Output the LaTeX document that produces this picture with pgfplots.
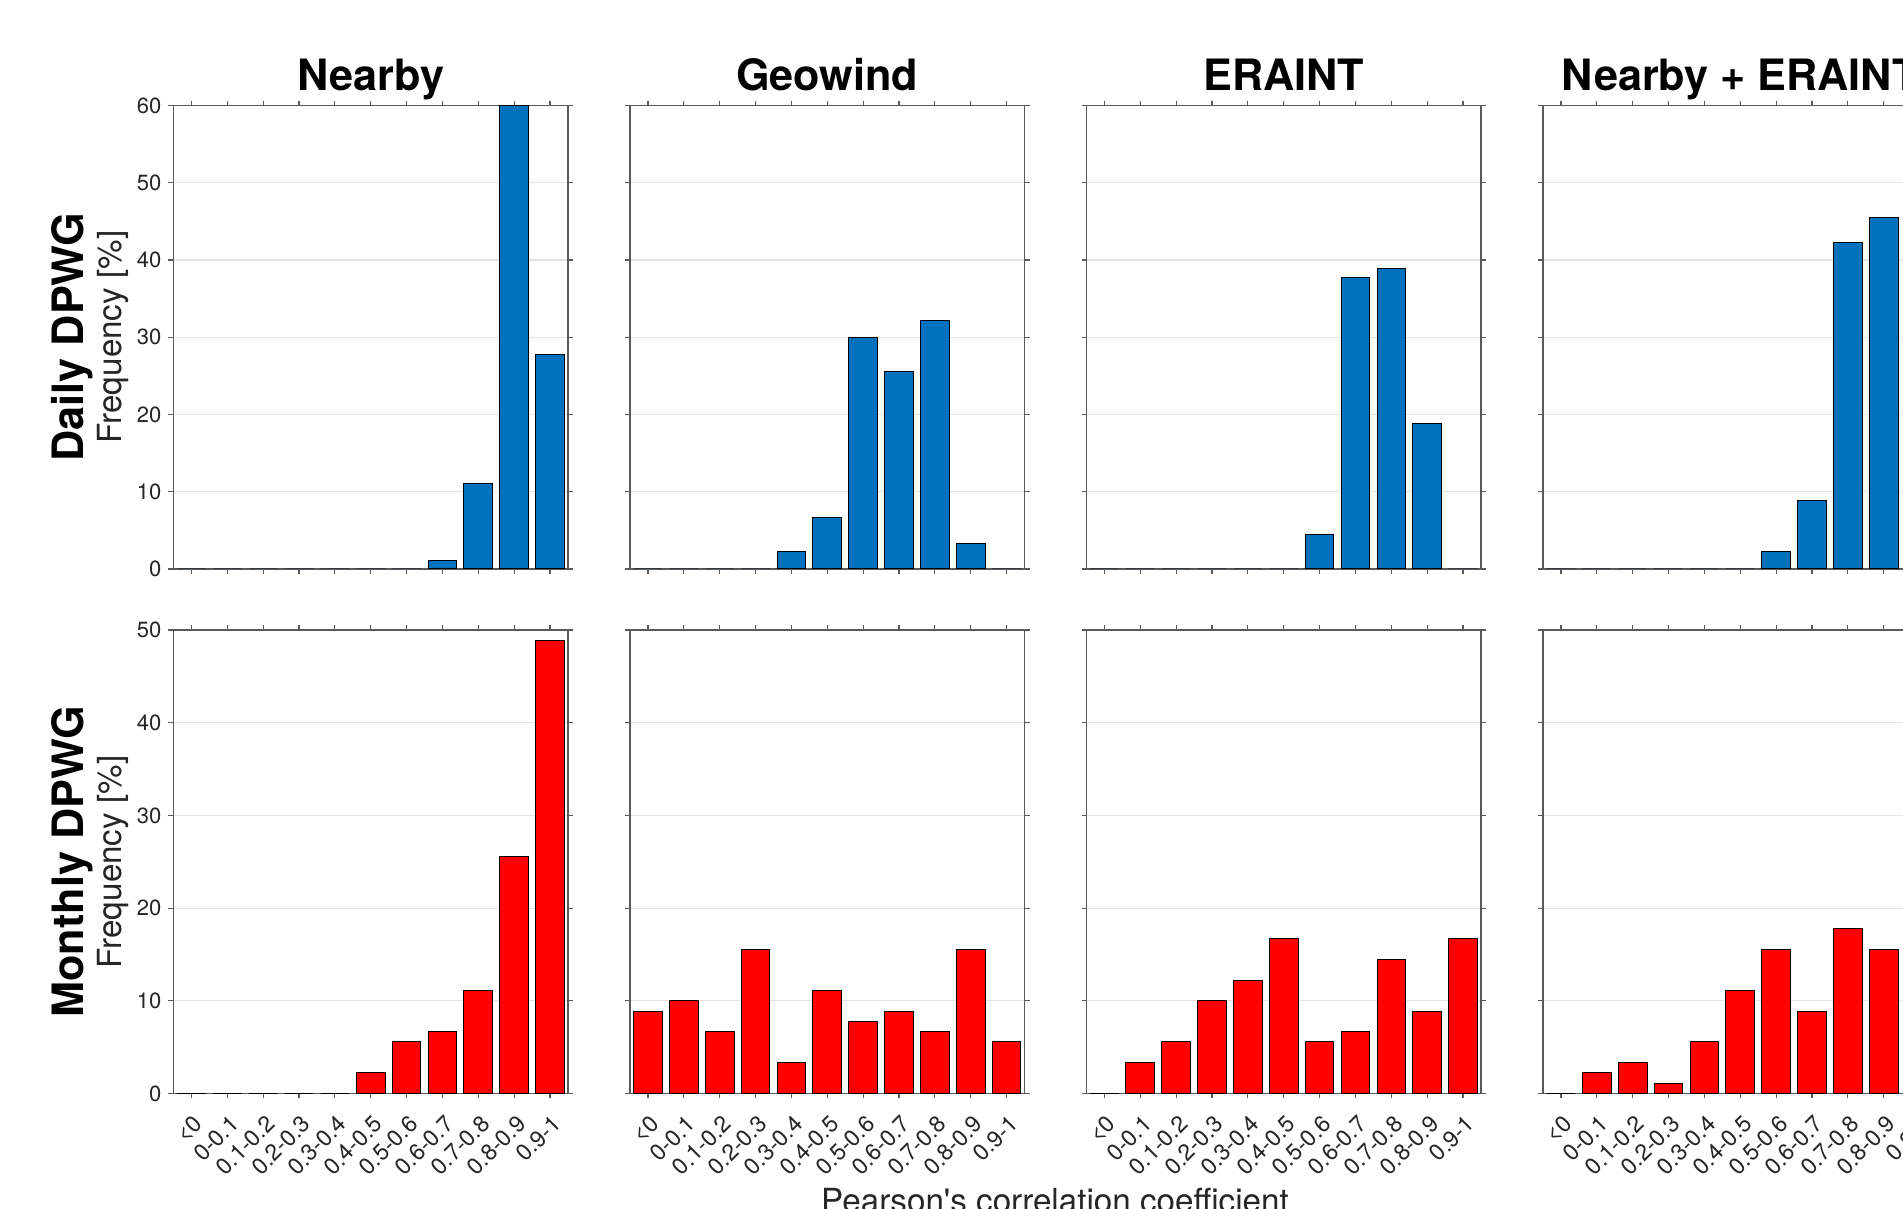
\documentclass[border=0pt]{standalone}
\usepackage{fontspec}
\setmainfont{TeX Gyre Heros}
\usepackage{pgfplots}
\pgfplotsset{compat=1.18}
\definecolor{mblue}{HTML}{0072BD}
\definecolor{mred}{HTML}{FF0000}
\definecolor{axgray}{HTML}{262626}
\definecolor{spine}{HTML}{5A5A5A}
\definecolor{gridgray}{HTML}{E4E4E4}
\pgfplotsset{
  panel/.style={
    scale only axis, width=197.25pt, height=231.7pt,
    anchor=south west,
    xmin=0.5, xmax=11.5, ymin=0,
    xtick={1,...,11},
    ytick distance=10,
    tick align=outside,
    major tick length=2.5pt,
    axis line style={spine, line width=0.6pt},
    every tick/.style={spine, line width=0.6pt},
    ymajorgrids, grid style={gridgray, line width=0.6pt},
    tick label style={font=\fontsize{11}{13}\selectfont, text=axgray},
    /pgf/number format/assume math mode=true,
    ybar, bar width=0.8,
    every axis plot/.append style={draw=black, line width=0.5pt},
  },
  toprow/.style={panel, ymax=60, xticklabels={}},
  botrow/.style={panel, ymax=50,
    xticklabels={{\textless0},0-0.1,0.1-0.2,0.2-0.3,0.3-0.4,0.4-0.5,0.5-0.6,0.6-0.7,0.7-0.8,0.8-0.9,0.9-1},
    xticklabel style={font=\fontsize{11.5}{13}\selectfont, xshift=4.5pt, yshift=-10pt, rotate=45, anchor=east, inner sep=1pt}},
  noy/.style={yticklabels={}},
}
\begin{document}
\begin{tikzpicture}
% top row
\begin{axis}[toprow, at={(86.75pt,320pt)}]
\addplot[fill=mblue] coordinates {(1,0) (2,0) (3,0) (4,0) (5,0) (6,0) (7,0) (8,1.11) (9,11.11) (10,60.0) (11,27.78)};
\end{axis}
\begin{axis}[toprow, noy, at={(315pt,320pt)}]
\addplot[fill=mblue] coordinates {(1,0) (2,0) (3,0) (4,0) (5,2.22) (6,6.67) (7,30.0) (8,25.56) (9,32.22) (10,3.33) (11,0)};
\end{axis}
\begin{axis}[toprow, noy, at={(543.25pt,320pt)}]
\addplot[fill=mblue] coordinates {(1,0) (2,0) (3,0) (4,0) (5,0) (6,0) (7,4.44) (8,37.78) (9,38.89) (10,18.89) (11,0)};
\end{axis}
\begin{axis}[toprow, noy, at={(771.5pt,320pt)}]
\addplot[fill=mblue] coordinates {(1,0) (2,0) (3,0) (4,0) (5,0) (6,0) (7,2.22) (8,8.89) (9,42.22) (10,45.56) (11,1.11)};
\end{axis}
% bottom row
\begin{axis}[botrow, at={(86.75pt,57.75pt)}]
\addplot[fill=mred] coordinates {(1,0) (2,0) (3,0) (4,0) (5,0) (6,2.22) (7,5.56) (8,6.67) (9,11.11) (10,25.56) (11,48.89)};
\end{axis}
\begin{axis}[botrow, noy, at={(315pt,57.75pt)}]
\addplot[fill=mred] coordinates {(1,8.89) (2,10.0) (3,6.67) (4,15.56) (5,3.33) (6,11.11) (7,7.78) (8,8.89) (9,6.67) (10,15.56) (11,5.56)};
\end{axis}
\begin{axis}[botrow, noy, at={(543.25pt,57.75pt)}]
\addplot[fill=mred] coordinates {(1,0) (2,3.33) (3,5.56) (4,10.0) (5,12.22) (6,16.67) (7,5.56) (8,6.67) (9,14.44) (10,8.89) (11,16.67)};
\end{axis}
\begin{axis}[botrow, noy, at={(771.5pt,57.75pt)}]
\addplot[fill=mred] coordinates {(1,0) (2,2.22) (3,3.33) (4,1.11) (5,5.56) (6,11.11) (7,15.56) (8,8.89) (9,17.78) (10,15.56) (11,18.89)};
\end{axis}
% titles
\begin{scope}[every node/.style={font=\fontsize{21.6}{24}\selectfont\bfseries, anchor=base, inner sep=0pt}]
\node at (185.4pt,559pt) {Nearby};
\node at (413.6pt,559pt) {Geowind};
\node at (641.9pt,559pt) {ERAINT};
\node at (870.1pt,559pt) {Nearby + ERAINT};
\node[rotate=90] at (41.5pt,436pt) {Daily DPWG};
\node[rotate=90] at (41.5pt,173.5pt) {Monthly DPWG};
\end{scope}
\begin{scope}[every node/.style={font=\fontsize{16.6}{19}\selectfont, text=axgray, anchor=base, inner sep=0pt}]
\node[rotate=90] at (60.5pt,436pt) {Frequency [\%]};
\node[rotate=90] at (60.5pt,173.5pt) {Frequency [\%]};
\node at (527.5pt,-2pt) {Pearson\textquotesingle s correlation coefficient};
\end{scope}
\pgfresetboundingbox
\useasboundingbox (0,0) rectangle (951.5pt,604.5pt);
\end{tikzpicture}
\end{document}
